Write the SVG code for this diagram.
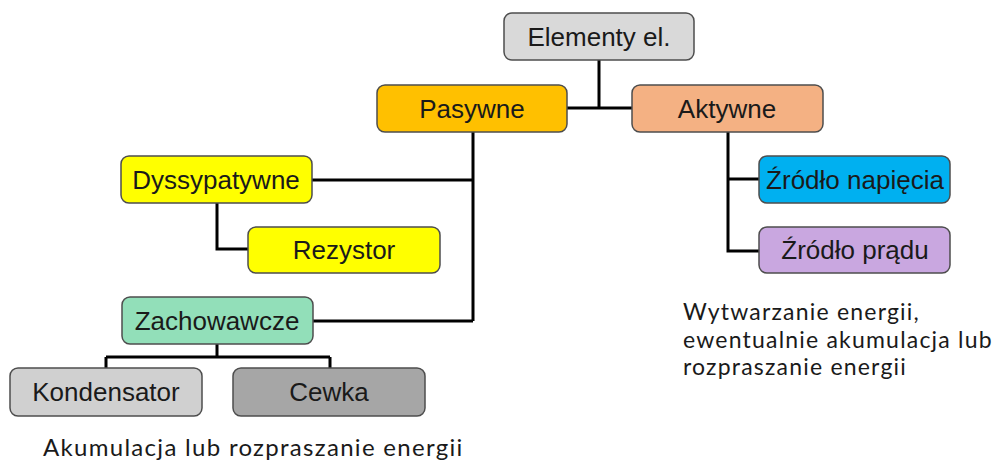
<svg xmlns="http://www.w3.org/2000/svg" width="993" height="461" viewBox="0 0 993 461">
<style>
.box{stroke:#4d4d4d;stroke-width:1.5}
.t{font-family:"Liberation Sans",Arial,sans-serif;font-size:26px;fill:#1a1a1a;text-anchor:middle}
.c{fill:none;stroke:#000;stroke-width:3}
.cap{font-family:Lato,"Open Sans",sans-serif;font-size:23px;letter-spacing:1.2px;fill:#1a1a1a}
</style>
<rect width="993" height="461" fill="#fff"/>
<g id="connectors">
<path class="c" d="M599 60V108M567 108H633"/>
<path class="c" d="M473 132V321M312 180H473M313 321H473"/>
<path class="c" d="M217 203V249H248"/>
<path class="c" d="M217 344V357M106 357H330M106 357V368M330 357V368"/>
<path class="c" d="M728 132V251H759M728 179H759"/>
</g>
<g id="elementy"><rect class="box" x="504" y="13" width="190" height="47" rx="8" fill="#d9d9d9"/><text class="t" x="599" y="46">Elementy el.</text></g>
<g id="pasywne"><rect class="box" x="377" y="85" width="190" height="47" rx="8" fill="#ffc000"/><text class="t" x="472" y="118">Pasywne</text></g>
<g id="aktywne"><rect class="box" x="632" y="85" width="191" height="47" rx="8" fill="#f4b183"/><text class="t" x="727" y="118">Aktywne</text></g>
<g id="dyssypatywne"><rect class="box" x="121" y="156" width="191" height="47" rx="8" fill="#ffff00"/><text class="t" x="216" y="189">Dyssypatywne</text></g>
<g id="rezystor"><rect class="box" x="248" y="227" width="192" height="46" rx="8" fill="#ffff00"/><text class="t" x="344" y="259">Rezystor</text></g>
<g id="zachowawcze"><rect class="box" x="122" y="297" width="191" height="47" rx="8" fill="#92dfb9"/><text class="t" x="217" y="330">Zachowawcze</text></g>
<g id="kondensator"><rect class="box" x="10" y="368" width="192" height="48" rx="8" fill="#d0d0d0"/><text class="t" x="106" y="401">Kondensator</text></g>
<g id="cewka"><rect class="box" x="233" y="368" width="192" height="48" rx="8" fill="#a6a6a6"/><text class="t" x="329" y="401">Cewka</text></g>
<g id="zrodlo-napiecia"><rect class="box" x="759" y="156" width="191" height="47" rx="8" fill="#00b0f0"/><text class="t" x="855" y="189">Źródło napięcia</text></g>
<g id="zrodlo-pradu"><rect class="box" x="759" y="227" width="191" height="46" rx="8" fill="#c9a7e0"/><text class="t" x="855" y="259">Źródło prądu</text></g>
<text class="cap" x="43" y="456" style="font-size:24px;letter-spacing:1.3px">Akumulacja lub rozpraszanie energii</text>
<text class="cap" x="683" y="320">Wytwarzanie energii,</text>
<text class="cap" x="683" y="348">ewentualnie akumulacja lub</text>
<text class="cap" x="683" y="375">rozpraszanie energii</text>
</svg>
